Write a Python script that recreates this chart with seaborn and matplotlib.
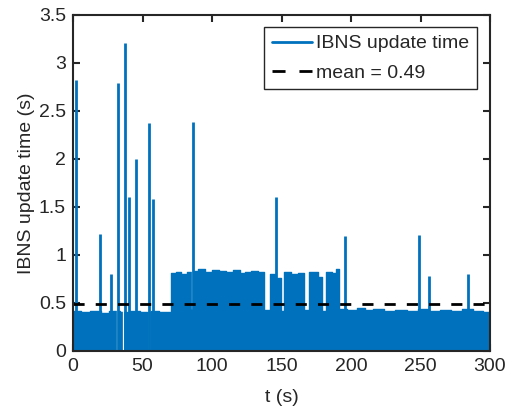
import matplotlib
matplotlib.use("Agg")
import matplotlib.pyplot as plt
import seaborn as sns
import pandas as pd
from matplotlib.lines import Line2D

# upper edge of the dense band of update times (step start in s, level in s)
env_t = [0, 6, 12, 20, 26, 34, 40, 48, 56, 62, 70.5, 74, 78, 82, 86, 90,
         95, 100, 105, 110, 115, 120, 124, 128, 133, 137.5, 141.5, 145.5,
         147, 149.5, 152, 157, 162, 166.5, 169.5, 176, 179, 182, 186, 189,
         191.5, 197, 204, 210, 216, 224, 232, 240, 248, 256, 264, 272, 280,
         288, 295]
env_v = [0.42, 0.41, 0.42, 0.40, 0.42, 0.41, 0.42, 0.41, 0.42, 0.41, 0.81,
         0.82, 0.80, 0.82, 0.83, 0.85, 0.82, 0.84, 0.83, 0.82, 0.84, 0.81,
         0.82, 0.83, 0.82, 0.43, 0.80, 0.42, 0.76, 0.42, 0.82, 0.80, 0.81,
         0.43, 0.82, 0.77, 0.42, 0.82, 0.81, 0.85, 0.44, 0.43, 0.45, 0.43,
         0.44, 0.42, 0.43, 0.42, 0.44, 0.42, 0.43, 0.42, 0.44, 0.42, 0.41]
t_end = 300

# isolated long updates
spike_t = [2.2, 19.4, 27.3, 32.4, 37.4, 40.3, 45.3, 54.7, 57.6, 86.3,
           146.0, 195.7, 249.0, 256.0, 284.0]
spike_h = [2.82, 1.22, 0.80, 2.79, 3.21, 1.60, 2.00, 2.38, 1.58, 2.39,
           1.60, 1.20, 1.21, 0.78, 0.80]

# sampling gaps (white slits in the band)
gap_t = [31.4, 36.2, 54.5, 85.4]
gap_lo = [0, 0, 0, 0.44]
gap_hi = [0.44, 0.44, 0.44, 0.85]

mean_val = 0.49

blue = '#0072BD'
dark = '#262626'

sns.set_style('ticks')
plt.rcParams['font.family'] = ['Liberation Sans', 'DejaVu Sans']
plt.rcParams['font.size'] = 14

fig = plt.figure(figsize=(5.08, 4.12), dpi=100)
ax = fig.add_axes([0.1437, 0.1481, 0.8209, 0.8155])

env = pd.DataFrame({'t': env_t + [t_end], 'v': env_v + [env_v[-1]]})
ax.fill_between(env['t'], 0, env['v'], step='post', color=blue, lw=0)
sns.lineplot(data=env, x='t', y='v', drawstyle='steps-post', color=blue,
             lw=1, ax=ax, legend=False)
ax.vlines(gap_t, gap_lo, gap_hi, color='white', lw=0.9)
ax.vlines(spike_t, 0, spike_h, color=blue, lw=2)
ax.axhline(mean_val, color='black', lw=2, dashes=(4, 4))

ax.set_xlim(0, 300)
ax.set_ylim(0, 3.5)
ax.set_xticks(range(0, 301, 50))
ax.set_yticks([0, 0.5, 1, 1.5, 2, 2.5, 3, 3.5])
ax.set_yticklabels(['0', '0.5', '1', '1.5', '2', '2.5', '3', '3.5'])
ax.set_xlabel('t (s)', fontsize=14, color=dark, labelpad=10)
ax.set_ylabel('IBNS update time (s)', fontsize=14, color=dark, labelpad=3)

for s in ax.spines.values():
    s.set_visible(True)
    s.set_linewidth(1.5)
    s.set_color(dark)
ax.tick_params(direction='in', length=5, width=1.5, top=True, right=True,
               labelsize=14, colors=dark, pad=5)

handles = [Line2D([], [], color=blue, lw=2),
           Line2D([], [], color='black', lw=2, dashes=(4.7, 5))]
leg = ax.legend(handles, ['IBNS update time', 'mean = ' + str(mean_val)],
                loc='upper right', bbox_to_anchor=(0.9688, 0.9643),
                borderaxespad=0, fancybox=False, framealpha=1,
                edgecolor=dark, fontsize=14, handlelength=2.06,
                handletextpad=0.2, labelspacing=0.6, borderpad=0.4)
leg.get_frame().set_linewidth(1)

fig.savefig('out.png', dpi=100)
